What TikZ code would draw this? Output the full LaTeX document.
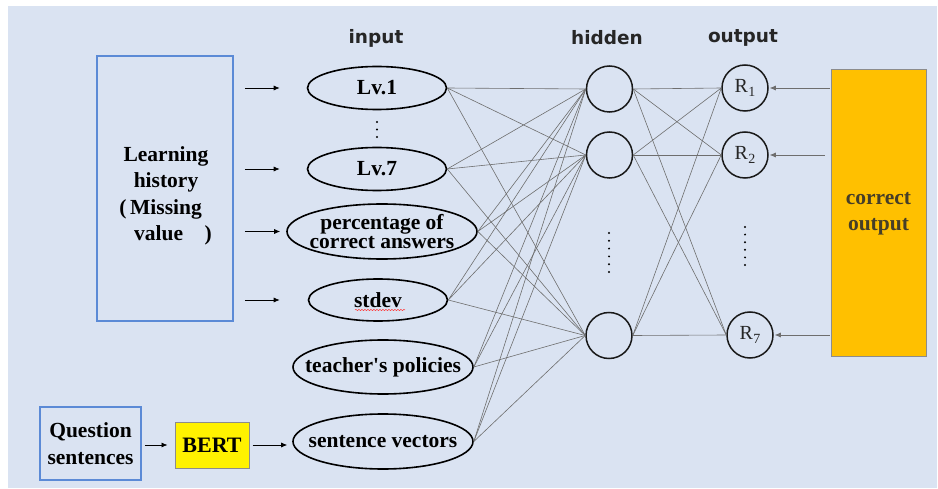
\documentclass[tikz,border=0pt]{standalone}
\usepackage{fontspec}
\setmainfont{Liberation Serif}
\newfontfamily\hdrfont{DejaVu Sans}
\font\rawquote="Liberation Serif/B" at 21.5pt
\usetikzlibrary{shapes.geometric,arrows.meta,decorations.pathmorphing,calc}
\definecolor{bgblue}{RGB}{218,227,242}
\definecolor{boxblue}{RGB}{91,138,214}
\definecolor{orangebox}{RGB}{255,192,0}
\definecolor{conn}{RGB}{110,110,110}
\definecolor{darktext}{RGB}{70,62,40}
\begin{document}
\begin{tikzpicture}[x=1pt,y=-1pt,
  txt/.style={font=\fontsize{21.5}{17.5}\selectfont\bfseries, text=black, align=center},
  hdr/.style={font=\hdrfont\fontsize{18.5}{22}\selectfont\bfseries, text=black!85},
  ell/.style={ellipse, draw=black, line width=1.6pt, inner sep=0pt},
  neuron/.style={circle, draw=black!90, line width=1.5pt, minimum size=46pt, inner sep=0pt},
  bluebox/.style={rectangle, draw=boxblue, line width=1.5pt, inner sep=0pt},
  conline/.style={draw=conn, line width=0.6pt},
  arr/.style={-{Latex[length=6pt,width=5pt]}, line width=0.7pt, draw=black},
  garr/.style={-{Latex[length=6pt,width=5pt]}, line width=0.7pt, draw=conn},
  rlab/.style={font=\fontsize{20}{20}\selectfont, text=black!85}
]
\useasboundingbox (0,0) rectangle (938,489);
\fill[white] (0,0) rectangle (938,489);
\fill[bgblue] (8,6) rectangle (937,488);

% headers
\node[hdr] (hin) at (376,38) {input};
\node[hdr] (hhid) at (607,38) {hidden};
\node[hdr] (hout) at (743,38) {output};

% learning history box
\node[bluebox, minimum width=136pt, minimum height=265pt] (lh) at (165,188.5) {};
\node[txt, font=\fontsize{21.5}{26.5}\selectfont\bfseries] (lhtext) at (166,196) {Learning\\history\\\makebox[0pt][r]{(\,}Missing\\\hspace*{14pt}value\quad)};

% input ellipses
\node[ell, minimum width=139pt, minimum height=43pt, label={[txt]center:Lv.1}] (L1) at (377,88) {};
\node[ell, minimum width=139pt, minimum height=43pt, label={[txt]center:Lv.7}] (L7) at (377,169) {};
\node[ell, minimum width=190pt, minimum height=55pt, label={[txt, font=\fontsize{21.5}{19}\selectfont\bfseries]center:percentage of\\correct answers}] (pc) at (382,231.5) {};
\node[ell, minimum width=139pt, minimum height=42pt, label={[txt]center:stdev}] (sd) at (378,300) {};
\node[ell, minimum width=180pt, minimum height=54pt, label={[txt]center:teacher{\rawquote '}s policies}] (tp) at (383,367) {};
\node[ell, minimum width=180pt, minimum height=55pt, label={[txt]center:sentence vectors}] (sv) at (383,441.5) {};

% spell-check squiggle under stdev
\draw[red!80, line width=0.5pt, decorate, decoration={snake, amplitude=0.6pt, segment length=3pt}] (355,310) -- (405,310);

% vertical dots between Lv.1 and Lv.7
\foreach \yy in {122,129.5,137} \fill[black] (377,\yy) circle (1.1pt);

% arrows from learning history
\draw[arr, shorten <=11pt, shorten >=27pt] (lh.east |- L1.west) -- (L1.west);
\draw[arr, shorten <=11pt, shorten >=27pt] (lh.east |- L7.west) -- (L7.west);
\draw[arr, shorten <=11pt, shorten >=6pt] (lh.east |- pc.west) -- (pc.west);
\draw[arr, shorten <=11pt, shorten >=28pt] (lh.east |- sd.west) -- (sd.west);

% question sentences and BERT
\node[bluebox, minimum width=101pt, minimum height=73pt, txt, font=\fontsize{21.5}{27}\selectfont\bfseries] (qs) at (90.5,443.5) {Question\\sentences};
\node[rectangle, draw=black!45, line width=1pt, fill=yellow, minimum width=74pt, minimum height=46pt, txt, font=\fontsize{22}{22}\selectfont\bfseries] (bert) at (212,445) {BERT};
\draw[arr, shorten <=3pt, shorten >=7pt] (qs.east |- bert.west) -- (bert.west);
\draw[arr, shorten <=3pt, shorten >=5pt] (bert.east) -- (sv.west |- bert.east);

% hidden neurons
\node[neuron] (h1) at (609.5,89) {};
\node[neuron] (h2) at (609.5,155) {};
\node[neuron] (h3) at (609,335.5) {};
\foreach \k in {0,...,5} \fill[black] (609,233+\k*7.8) circle (1.1pt);

% output neurons
\node[neuron, rlab] (r1) at (745,88) {R\kern0.5pt\raisebox{-4.5pt}{\fontsize{14}{14}\selectfont 1}};
\node[neuron, rlab] (r2) at (745,155) {R\kern0.5pt\raisebox{-4.5pt}{\fontsize{14}{14}\selectfont 2}};
\node[neuron, rlab] (r7) at (750,335) {R\kern0.5pt\raisebox{-4.5pt}{\fontsize{14}{14}\selectfont 7}};
\foreach \k in {0,...,5} \fill[black] (745,227+\k*7.6) circle (1.1pt);

% correct output box
\node[rectangle, draw=black!45, line width=1pt, fill=orangebox, minimum width=95pt, minimum height=287pt, txt, font=\fontsize{21.5}{26}\selectfont\bfseries, text=darktext] (co) at (878.5,213.5) {correct\\output};
\draw[garr, shorten <=1pt, shorten >=1pt] (co.west |- r1.east) -- (r1.east);
\draw[garr, shorten <=6pt, shorten >=1pt] (co.west |- r2.east) -- (r2.east);
\draw[garr, shorten <=1pt, shorten >=1pt] (co.west |- r7.east) -- (r7.east);

% connections
\foreach \i in {L1,L7,pc,sd,tp,sv}
  \foreach \h in {h1,h2,h3}
    \draw[conline] (\i.east) -- (\h.west);
\foreach \h in {h1,h2,h3}
  \foreach \r in {r1,r2,r7}
    \draw[conline] (\h.east) -- (\r.west);
\end{tikzpicture}
\end{document}
